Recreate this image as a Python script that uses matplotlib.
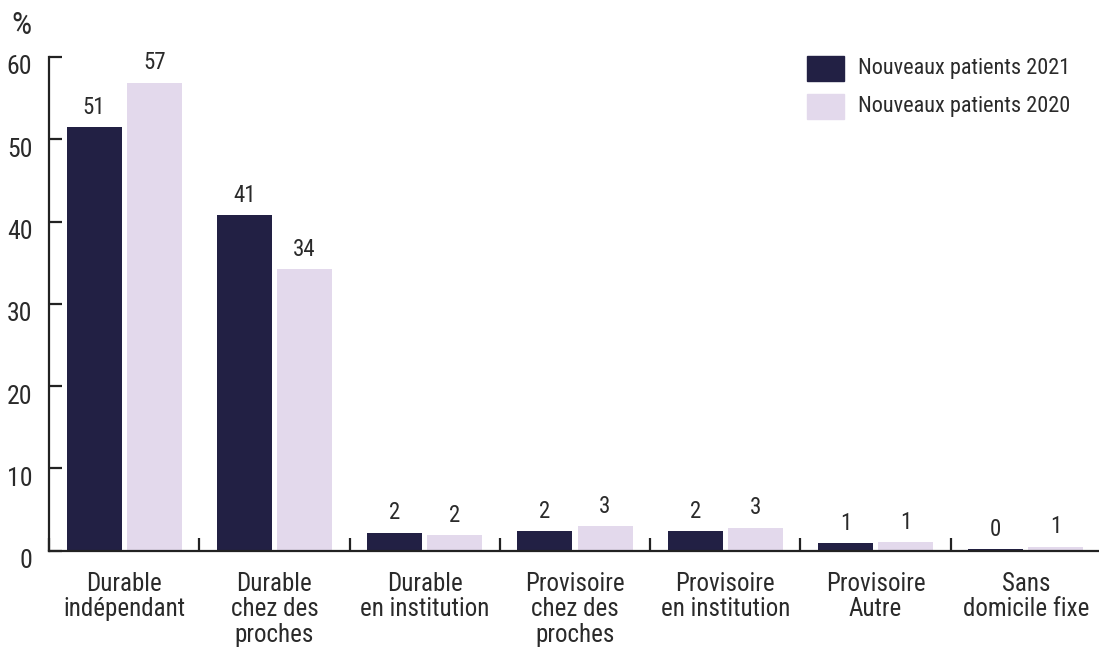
import matplotlib
matplotlib.use("Agg")
import matplotlib.pyplot as plt
from matplotlib import font_manager as fm
from matplotlib.patches import Rectangle
from matplotlib.transforms import ScaledTranslation
import numpy as np

categories = ["Durable\nindépendant", "Durable\nchez des\nproches", "Durable\nen institution",
              "Provisoire\nchez des\nproches", "Provisoire\nen institution", "Provisoire\nAutre",
              "Sans\ndomicile fixe"]
series_names = ["Nouveaux patients 2021", "Nouveaux patients 2020"]
values_2021 = [51.5, 40.8, 2.2, 2.4, 2.4, 0.95, 0.2]
values_2020 = [56.9, 34.2, 1.9, 3.0, 2.8, 1.05, 0.5]
labels_2021 = ["51", "41", "2", "2", "2", "1", "0"]
labels_2020 = ["57", "34", "2", "3", "3", "1", "1"]
yticks = [0, 10, 20, 30, 40, 50, 60]

names = {f.name for f in fm.fontManager.ttflist}
family = "DejaVu Sans"
stretch = "normal"
for cand in ["Roboto Condensed", "Liberation Sans Narrow", "Open Sans Condensed"]:
    if cand in names:
        family = cand
        break
else:
    stretch = "condensed"

plt.rcParams["font.family"] = [family, "DejaVu Sans"]
plt.rcParams["font.stretch"] = stretch

DARK = "#222044"
LIGHT = "#E3D9EC"
TXT = "#2a2a2a"

fig = plt.figure(figsize=(10.99, 6.51), dpi=100)
ax = fig.add_axes([49/1099, 1-550.7/651, 1052/1099, (550.7-57)/651])

x = np.arange(len(categories))
w = 0.366
off = 0.2
b1 = ax.bar(x - off, values_2021, w, color=DARK)
b2 = ax.bar(x + off, values_2020, w, color=LIGHT)

for bars, labs in ((b1, labels_2021), (b2, labels_2020)):
    for r, lab in zip(bars, labs):
        ax.annotate(lab, (r.get_x() + r.get_width()/2, r.get_height()),
                    xytext=(0, 6), textcoords="offset points", ha="center", va="bottom",
                    fontsize=16.5, color=TXT)

ax.set_xlim(-0.5, len(categories) - 0.5)
ax.set_ylim(0, 60)
for s in ["top", "right"]:
    ax.spines[s].set_visible(False)
for s in ["left", "bottom"]:
    ax.spines[s].set_linewidth(1.6)
    ax.spines[s].set_color("#222222")
ax.spines["left"].set_bounds(0, 60)

ax.set_yticks(yticks)
ax.set_yticklabels([str(t) for t in yticks], fontsize=18.5, color=TXT)
ax.tick_params(axis="y", direction="in", length=9.5, width=1.6, color="#222222", pad=12)
offset = ScaledTranslation(0, -8/100, fig.dpi_scale_trans)
for lab in ax.get_yticklabels():
    lab.set_transform(lab.get_transform() + offset)

ax.set_xticks(np.arange(len(categories) + 1) - 0.5)
ax.set_xticklabels([])
ax.tick_params(axis="x", which="major", direction="in", length=9.5, width=1.6, color="#222222")
ax.set_xticks(x, minor=True)
ax.set_xticklabels(categories, minor=True, fontsize=18, color=TXT, linespacing=1.08)
ax.tick_params(axis="x", which="minor", length=0, pad=15)

fig.text(21/1099, 1-26/651, "%", ha="center", va="center", fontsize=23, color=TXT)

# legend
for i, (name, col) in enumerate(zip(series_names, [DARK, LIGHT])):
    y0 = 56 + i*38
    fig.patches.append(Rectangle((807/1099, 1-(y0+25)/651), 37/1099, 25/651,
                                 transform=fig.transFigure, color=col))
    fig.text(858/1099, 1-(y0+12.5)/651, name, ha="left", va="center", fontsize=16, color=TXT)

fig.savefig("out.png", dpi=100)
